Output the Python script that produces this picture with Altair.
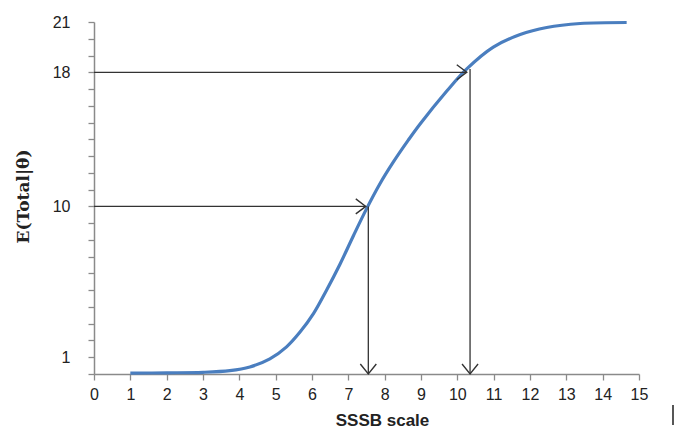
import altair as alt
import pandas as pd

# Curve
curve_x = [1.0, 2.0, 3.0, 3.74, 4.29, 4.84, 5.30, 5.67, 6.04, 6.40, 6.77, 7.14, 7.50,
           7.87, 8.24, 8.65, 8.97, 9.71, 10.26, 10.99, 11.73, 12.46, 13.38, 14.66]
curve_y = [0.05, 0.07, 0.10, 0.20, 0.42, 0.90, 1.62, 2.50, 3.60, 5.00, 6.55, 8.25, 9.85,
           11.35, 12.65, 13.95, 14.90, 16.88, 18.20, 19.50, 20.25, 20.67, 20.91, 20.97]

# Arrows
h_y = [10, 18]
h_x_start = [0, 0]
h_x_end = [7.48, 10.26]
v_x = [7.55, 10.35]
v_y_start = [10, 18.2]
v_y_end = [0, 0]

x_ticks = list(range(0, 16))
y_ticks = list(range(0, 22))
y_labels = [1, 10, 18, 21]

curve = pd.DataFrame({"x": curve_x, "y": curve_y})
harr = pd.DataFrame({"x": h_x_start, "x2": h_x_end, "y": h_y})
varr = pd.DataFrame({"x": v_x, "y": v_y_start, "y2": v_y_end})

xs = alt.Scale(domain=[0, 15], nice=False, zero=False)
ys = alt.Scale(domain=[0, 21], nice=False, zero=False)

label_font = "Liberation Sans"
xaxis = alt.Axis(
    values=x_ticks, title="SSSB scale", labelFontSize=16, labelFont=label_font,
    labelColor="#222", labelPadding=14, labelBaseline="middle", labelFlush=False,
    labelOverlap=False,
    titleFont="Liberation Sans", titleFontSize=17, titleFontWeight="bold", titleColor="#222",
    titleX=288, titleY=46, titleAnchor="middle", titleBaseline="middle", titleAlign="center",
)
yaxis = alt.Axis(
    values=y_ticks, title="E(Total|θ)", labelFontSize=16, labelFont=label_font,
    labelColor="#222", labelPadding=18, labelOverlap=False,
    labelExpr="indexof([" + ",".join(str(v) for v in y_labels) + "], datum.value) >= 0 ? datum.label : ''",
    labelFlush=False,
    titleFont="DejaVu Serif", titleFontSize=17, titleFontWeight="bold", titleColor="#222",
    titleX=-71, titleY=174, titleAngle=-90, titleAlign="center", titleBaseline="middle",
)

X = lambda f: alt.X(f, scale=xs, axis=xaxis)
Y = lambda f: alt.Y(f, scale=ys, axis=yaxis)

line = alt.Chart(curve).mark_line(
    color="#4a7ebf", strokeWidth=3.2, interpolate="catmull-rom"
).encode(x=X("x:Q"), y=Y("y:Q"))

hrule = alt.Chart(harr).mark_rule(color="#333", strokeWidth=1.3).encode(
    x=X("x:Q"), x2="x2:Q", y=Y("y:Q")
)
vrule = alt.Chart(varr).mark_rule(color="#333", strokeWidth=1.3).encode(
    x=X("x:Q"), y=Y("y:Q"), y2="y2:Q"
)
hhead = alt.Chart(harr).mark_point(
    shape="M-1,-0.75L0,0L-1,0.75", filled=False, color="#333", strokeWidth=1.4, size=400, opacity=1
).encode(x=X("x2:Q"), y=Y("y:Q"))
vhead = alt.Chart(varr).mark_point(
    shape="M-0.8,-1L0,0L0.8,-1", filled=False, color="#333", strokeWidth=1.4, size=400, opacity=1
).encode(x=X("x:Q"), y=Y("y2:Q"))

stray = alt.Chart(pd.DataFrame({"k": [0]})).mark_rule(color="#444", strokeWidth=1.8).encode(
    x=alt.value(579), y=alt.value(383), y2=alt.value(403)
)

chart = alt.layer(line, hrule, vrule, hhead, vhead, stray).properties(
    width=545, height=352,
    autosize=alt.AutoSizeParams(type="none"),
    padding={"left": 86, "top": 14, "right": 44, "bottom": 56},
    background="white",
).configure_view(stroke=None).configure_axis(
    grid=False, domainColor="#8a8a8a", domainWidth=1.5, tickColor="#8a8a8a",
    tickWidth=1.3, tickSize=6,
)

chart.save("out.html", embed_options={"renderer": "svg", "actions": False})
